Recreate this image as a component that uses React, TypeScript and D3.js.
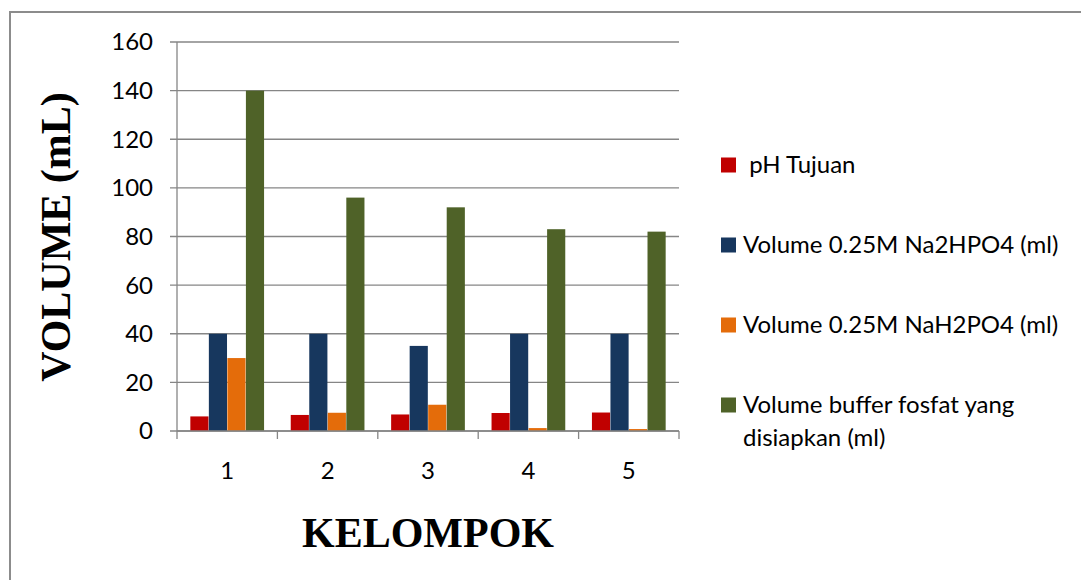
import { useEffect, useRef } from 'react';
import * as d3 from 'd3';

const categories = ['1', '2', '3', '4', '5'];
const seriesNames = [
  'pH Tujuan',
  'Volume 0.25M Na2HPO4 (ml)',
  'Volume 0.25M NaH2PO4 (ml)',
  'Volume buffer fosfat yang disiapkan (ml)',
];
const phTujuan = [6.0, 6.6, 6.8, 7.4, 7.6];
const volNa2HPO4 = [40, 40, 35, 40, 40];
const volNaH2PO4 = [30, 7.5, 10.8, 1.2, 0.8];
const volBuffer = [140, 96, 92, 83, 82];
const yTicks = [0, 20, 40, 60, 80, 100, 120, 140, 160];

const COLORS = ['#c00000', '#17375e', '#e46c0a', '#4f6228'];
const SANS = 'Lato, "Open Sans", sans-serif';
const SERIF = '"Liberation Serif", "DejaVu Serif", serif';

const W = 1081;
const H = 580;
const PLOT = { left: 177, right: 679, top: 42, bottom: 431 };

export default function App() {
  const svgRef = useRef<SVGSVGElement>(null);

  useEffect(() => {
    if (!svgRef.current) return;
    const svg = d3.select(svgRef.current);
    svg.selectAll('*').remove();

    const series = [phTujuan, volNa2HPO4, volNaH2PO4, volBuffer];
    const axisColor = '#868686';

    // outer frame
    svg
      .append('rect')
      .attr('x', 10)
      .attr('y', 12)
      .attr('width', W)
      .attr('height', H)
      .attr('fill', '#fff')
      .attr('stroke', '#8c8c8c')
      .attr('stroke-width', 2);

    const x = d3
      .scaleBand()
      .domain(categories)
      .range([PLOT.left, PLOT.right])
      .paddingInner(0)
      .paddingOuter(0);
    const y = d3.scaleLinear().domain([0, 160]).range([PLOT.bottom, PLOT.top]);
    const inner = d3
      .scaleBand()
      .domain(seriesNames)
      .range([0, x.bandwidth()])
      .paddingInner(0.02)
      .paddingOuter(0.72);

    // gridlines + y ticks
    const grid = svg.append('g');
    yTicks.forEach(t => {
      grid
        .append('line')
        .attr('x1', PLOT.left - 7)
        .attr('x2', PLOT.right)
        .attr('y1', y(t))
        .attr('y2', y(t))
        .attr('stroke', axisColor)
        .attr('stroke-width', 1.3);
      grid
        .append('text')
        .attr('x', 153)
        .attr('y', y(t))
        .attr('dy', '0.35em')
        .attr('text-anchor', 'end')
        .attr('font-family', SANS)
        .attr('font-size', 24)
        .attr('fill', '#000')
        .text(t);
    });

    // y axis line
    svg
      .append('line')
      .attr('x1', PLOT.left)
      .attr('x2', PLOT.left)
      .attr('y1', PLOT.top)
      .attr('y2', PLOT.bottom)
      .attr('stroke', axisColor)
      .attr('stroke-width', 1.3);

    // bars
    series.forEach((vals, si) => {
      svg
        .append('g')
        .selectAll('rect')
        .data(vals)
        .enter()
        .append('rect')
        .attr('x', (_d: number, i: number) => (x(categories[i]) ?? 0) + (inner(seriesNames[si]) ?? 0))
        .attr('y', (d: number) => y(d))
        .attr('width', inner.bandwidth())
        .attr('height', (d: number) => y(0) - y(d))
        .attr('fill', COLORS[si]);
    });

    // x axis line and ticks
    svg
      .append('line')
      .attr('x1', PLOT.left)
      .attr('x2', PLOT.right)
      .attr('y1', PLOT.bottom)
      .attr('y2', PLOT.bottom)
      .attr('stroke', axisColor)
      .attr('stroke-width', 1.3);
    const bounds = categories.map(c => x(c) ?? 0).concat([PLOT.right]);
    bounds.forEach(bx => {
      svg
        .append('line')
        .attr('x1', bx)
        .attr('x2', bx)
        .attr('y1', PLOT.bottom)
        .attr('y2', PLOT.bottom + 8)
        .attr('stroke', axisColor)
        .attr('stroke-width', 1.3);
    });
    categories.forEach(c => {
      svg
        .append('text')
        .attr('x', (x(c) ?? 0) + x.bandwidth() / 2)
        .attr('y', 471)
        .attr('dy', '0.35em')
        .attr('text-anchor', 'middle')
        .attr('font-family', SANS)
        .attr('font-size', 24)
        .attr('fill', '#000')
        .text(c);
    });

    // axis titles
    svg
      .append('text')
      .attr('x', 428)
      .attr('y', 547)
      .attr('text-anchor', 'middle')
      .attr('font-family', SERIF)
      .attr('font-weight', 'bold')
      .attr('font-size', 42)
      .attr('fill', '#000')
      .text('KELOMPOK');
    svg
      .append('text')
      .attr('transform', 'translate(70, 237) rotate(-90)')
      .attr('text-anchor', 'middle')
      .attr('font-family', SERIF)
      .attr('font-weight', 'bold')
      .attr('font-size', 42)
      .attr('fill', '#000')
      .text('VOLUME (mL)');

    // legend
    const legendLines = [
      [' pH Tujuan'],
      ['Volume 0.25M Na2HPO4 (ml)'],
      ['Volume 0.25M NaH2PO4 (ml)'],
      ['Volume buffer fosfat yang', 'disiapkan (ml)'],
    ];
    const legendY = [165, 245, 325, 405];
    legendLines.forEach((lines, i) => {
      const g = svg.append('g').attr('transform', `translate(721, ${legendY[i]})`);
      g.append('rect')
        .attr('x', 0)
        .attr('y', -7.5)
        .attr('width', 15)
        .attr('height', 15)
        .attr('fill', COLORS[i]);
      lines.forEach((ln, li) => {
        g.append('text')
          .attr('x', 22)
          .attr('y', li * 33)
          .attr('dy', '0.35em')
          .attr('font-family', SANS)
          .attr('font-size', 24)
          .attr('fill', '#000')
          .attr('xml:space', 'preserve')
          .style('white-space', 'pre')
          .text(ln);
      });
    });
  }, []);

  return (
    <svg
      ref={svgRef}
      width={W}
      height={H}
      style={{ position: 'absolute', left: 0, top: 0, background: '#fff' }}
    />
  );
}
